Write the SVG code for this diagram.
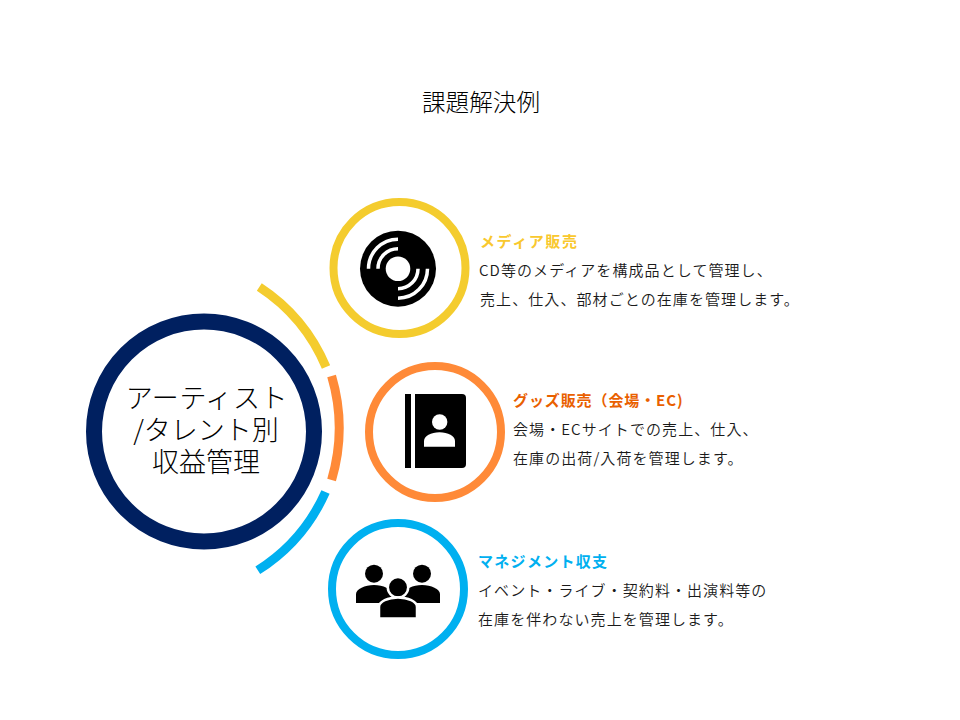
<svg xmlns="http://www.w3.org/2000/svg" width="960" height="720" viewBox="0 0 960 720">
<style>
text{font-family:"Noto Sans CJK JP","Noto Sans",sans-serif;fill:#1a1a1a}
.t{font-size:15px;letter-spacing:1.08px;font-weight:350}
.h{font-size:15px;letter-spacing:1.3px;font-weight:700}
.c{font-size:27px;text-anchor:middle;font-weight:300;fill:#000}
.ring{fill:#fff;stroke-width:8}
.arc{fill:none;stroke-width:9}
.w{fill:none;stroke:#fff;stroke-width:3.5}
</style>
<rect width="960" height="720" fill="#fff"/>
<text x="481" y="111" font-size="23.6" text-anchor="middle" font-weight="300" style="fill:#000">課題解決例</text>
<g id="connectors">
<path class="arc" stroke="#F4CC2E" d="M259.300 287A178 178 0 0 1 326 367"/>
<path class="arc" stroke="#FF8A38" d="M331.600 376A184 184 0 0 1 331.600 480"/>
<path class="arc" stroke="#00B0F0" d="M325.500 492A178 178 0 0 1 257.800 570.300"/>
</g>
<g id="center">
<circle cx="204" cy="431.500" r="110" fill="#fff" stroke="#002060" stroke-width="16"/>
<text class="c"><tspan x="207" y="408" letter-spacing=".6">アーティスト</tspan><tspan x="206" y="440">/タレント別</tspan><tspan x="206" y="472">収益管理</tspan></text>
</g>
<g id="media">
<circle class="ring" cx="399.500" cy="268" r="66" stroke="#F4CC2E"/>
<circle cx="398" cy="268.700" r="38" fill="#000"/>
<circle cx="398" cy="268.700" r="12.300" fill="#fff"/>
<path class="w" d="M368.500 268.700A29.500 29.500 0 0 1 398 239.200M378 268.700A20 20 0 0 1 398 248.700M427.500 268.700A29.500 29.500 0 0 1 398 298.200M418 268.700A20 20 0 0 1 398 288.700"/>
<text class="h" x="480" y="247" style="fill:#F9C82E;letter-spacing:1.6px">メディア販売</text>
<text class="t" x="479" y="275.500">CD等のメディアを構成品として管理し、</text>
<text class="t" x="480" y="304.500">売上、仕入、部材ごとの在庫を管理します。</text>
</g>
<g id="goods">
<circle class="ring" cx="435" cy="432" r="66" stroke="#FF8A38"/>
<rect x="405" y="394" width="6" height="74"/>
<path d="M415 394H462a4 4 0 0 1 4 4V464a4 4 0 0 1 -4 4H415Z"/>
<circle cx="439.700" cy="422" r="7.700" fill="#fff"/>
<path fill="#fff" d="M424 446.700V441C424 436 431 432.300 439.500 432.300S455 436 455 441V446.700Z"/>
<text class="h" x="513" y="406" style="fill:#E96000;letter-spacing:.9px">グッズ販売（会場・EC)</text>
<text class="t" x="513" y="435">会場・ECサイトでの売上、仕入、</text>
<text class="t" x="513" y="464">在庫の出荷/入荷を管理します。</text>
</g>
<g id="management">
<circle class="ring" cx="398" cy="589" r="66" stroke="#00B0F0"/>
<circle cx="374" cy="573.700" r="9"/>
<circle cx="422" cy="573.700" r="9"/>
<path d="M356 603V594C356 589 365 585 374 585S392 589 392 594V603Z"/>
<path d="M404 603V594C404 589 413 585 422 585S440 589 440 594V603Z"/>
<circle cx="398" cy="587.300" r="10.200" stroke="#fff" stroke-width="2.500"/>
<path stroke="#fff" stroke-width="2.500" d="M379 618.500V607C379 601.500 388 597.500 398 597.500S417 601.500 417 607V618.500Z"/>
<text class="h" x="478" y="567" style="fill:#00B0F0">マネジメント収支</text>
<text class="t" x="478" y="596">イベント・ライブ・契約料・出演料等の</text>
<text class="t" x="478" y="625">在庫を伴わない売上を管理します。</text>
</g>
</svg>
